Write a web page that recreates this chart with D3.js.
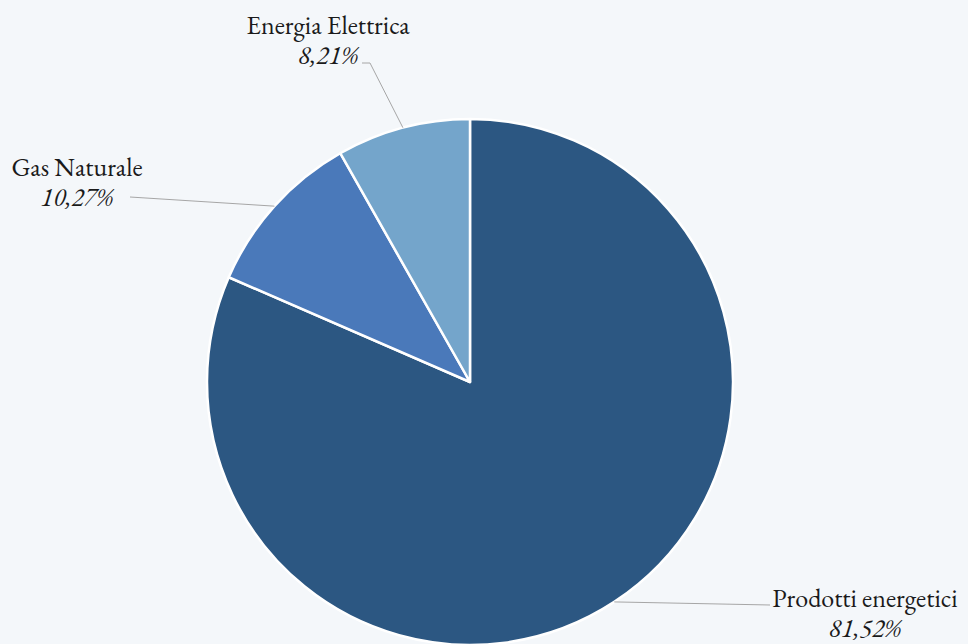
<!DOCTYPE html>
<html><head><meta charset="utf-8">
<script src="https://cdn.jsdelivr.net/npm/d3@7"></script>
<style>
html,body{margin:0;padding:0;background:#F4F7FA;}
svg{display:block;}
</style></head><body>
<svg id="c" width="968" height="644"></svg>
<script>
const categories = ["Prodotti energetici", "Gas Naturale", "Energia Elettrica"];
const values = [81.52, 10.27, 8.21];
const valueLabels = ["81,52%", "10,27%", "8,21%"];
const colors = ["#2C5782", "#4A79BA", "#74A5CB"];

// label layout (text center x, name baseline y, leader start and knee)
const labelPos = [
  {x: 865, y: 607, lx: 770, ly: 605, kx: 770, ky: 605},
  {x: 77,  y: 176, lx: 130, ly: 197, kx: 130, ky: 197},
  {x: 328, y: 34,  lx: 362, ly: 63,  kx: 370, ky: 63}
];

const FONT = "'EB Garamond', 'Liberation Serif', serif";
const W = 968, H = 644, cx = 470, cy = 382, R = 263;
const svg = d3.select("#c");
svg.append("rect").attr("width", W).attr("height", H).attr("fill", "#F4F7FA");

const pie = d3.pie().sort(null).value(d => d)(values);
const arc = d3.arc().innerRadius(0).outerRadius(R);
const edge = d3.arc().innerRadius(R).outerRadius(R);
const g = svg.append("g").attr("transform", `translate(${cx},${cy})`);

g.selectAll("path").data(pie).join("path")
  .attr("d", arc)
  .attr("fill", (d, i) => colors[i])
  .attr("stroke", "#ffffff")
  .attr("stroke-width", 2.5)
  .attr("stroke-linejoin", "round");

pie.forEach((d, i) => {
  const [ex, ey] = edge.centroid(d);
  const p = labelPos[i];
  svg.append("polyline")
    .attr("points", `${p.lx},${p.ly} ${p.kx},${p.ky} ${cx + ex},${cy + ey}`)
    .attr("fill", "none").attr("stroke", "#A6A6A6").attr("stroke-width", 1);
});

categories.forEach((c, i) => {
  const p = labelPos[i];
  const t = svg.append("text").attr("text-anchor", "middle")
    .attr("font-size", 26).attr("fill", "#1a1a1a")
    .style("font-family", FONT);
  t.append("tspan").attr("x", p.x).attr("y", p.y).text(c);
  t.append("tspan").attr("x", p.x).attr("y", p.y + 30).attr("font-style", "italic").text(valueLabels[i]);
});
</script>
</body></html>
